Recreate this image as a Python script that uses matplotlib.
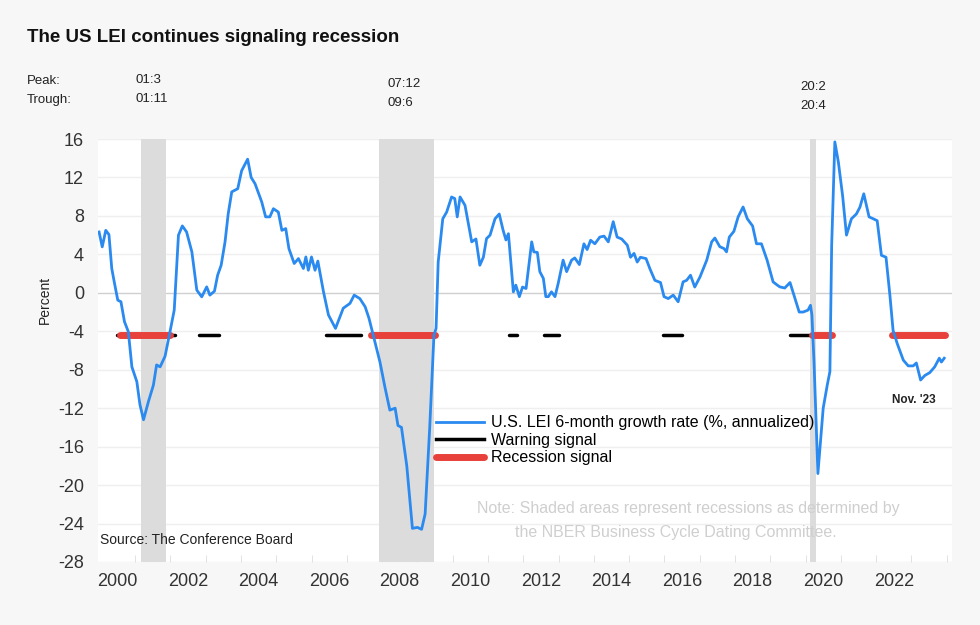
import matplotlib
matplotlib.use("Agg")
import matplotlib.pyplot as plt
from matplotlib.lines import Line2D

plt.rcParams['axes.unicode_minus'] = False
plt.rcParams['font.family'] = ['Liberation Sans', 'DejaVu Sans']

years = [1999.98,2000.07,2000.17,2000.26,2000.34,2000.41,2000.51,2000.60,2000.70,2000.81,2000.91,2001.05,2001.14,2001.24,2001.38,2001.52,2001.61,2001.71,2001.85,2001.99,2002.11,2002.23,2002.34,2002.46,2002.61,2002.75,2002.89,2003.03,2003.12,2003.25,2003.34,2003.44,2003.55,2003.64,2003.74,2003.91,2004.02,2004.19,2004.29,2004.40,2004.59,2004.70,2004.82,2004.92,2005.06,2005.16,2005.27,2005.36,2005.51,2005.63,2005.77,2005.84,2005.91,2006.00,2006.10,2006.18,2006.34,2006.48,2006.68,2006.90,2007.09,2007.21,2007.37,2007.52,2007.63,2007.75,2007.94,2008.08,2008.22,2008.37,2008.45,2008.55,2008.70,2008.86,2009.00,2009.12,2009.22,2009.35,2009.47,
2009.53,2009.59,2009.72,2009.83,2009.97,2010.06,2010.13,2010.21,2010.35,2010.54,2010.66,2010.77,2010.87,2010.96,2011.06,2011.20,2011.32,2011.43,2011.51,2011.58,2011.72,2011.79,2011.89,2011.98,2012.08,2012.24,2012.30,2012.40,2012.47,2012.57,2012.64,2012.71,2012.80,2012.90,2012.99,2013.13,2013.23,2013.37,2013.46,2013.59,2013.72,2013.81,2013.91,2014.03,2014.17,2014.29,2014.41,2014.55,2014.66,2014.79,2014.95,2015.04,2015.14,2015.23,2015.32,2015.48,2015.59,2015.73,2015.89,2015.99,2016.11,2016.25,2016.39,
2016.53,2016.63,2016.74,2016.86,2017.01,2017.20,2017.34,2017.43,2017.57,2017.69,2017.76,2017.84,2017.97,2018.09,2018.23,2018.35,2018.50,2018.61,2018.75,2018.91,2019.08,2019.20,2019.27,2019.41,2019.56,2019.70,2019.82,2019.93,2020.07,2020.14,2020.18,2020.24,2020.35,2020.50,2020.62,2020.69,2020.74,2020.83,2020.93,2021.05,2021.16,2021.30,2021.44,2021.54,2021.65,2021.80,2021.92,2022.03,2022.15,2022.28,2022.39,2022.48,2022.60,2022.77,2022.91,2023.05,2023.14,2023.26,2023.38,2023.52,2023.66,2023.79,2023.85,2023.93]
values = [6.33,4.78,6.5,6.06,2.53,1.14,-0.76,-0.93,-3.0,-4.05,-7.7,-9.24,-11.66,-13.2,-11.3,-9.6,-7.5,-7.7,-6.6,-4.05,-1.8,6.0,6.96,6.33,4.26,0.28,-0.42,0.62,-0.24,0.17,1.83,2.87,5.3,8.23,10.5,10.83,12.7,13.9,12.0,11.35,9.45,7.9,7.9,8.75,8.4,6.5,6.68,4.6,3.05,3.56,2.53,3.73,2.35,3.73,2.35,3.3,0.1,-2.3,-3.7,-1.6,-1.1,-0.24,-0.6,-1.45,-2.66,-4.4,-7.2,-9.8,-12.2,-12.0,-13.8,-14.0,-18.0,-24.5,-24.4,-24.6,-23.0,-14.0,-4.4,
-3.7,3.2,7.7,8.4,9.97,9.8,7.9,9.97,9.1,5.3,5.6,2.87,3.7,5.64,6.0,7.7,8.2,6.5,5.5,6.15,0.1,0.8,-0.4,0.6,0.45,5.3,4.26,4.2,2.2,1.5,-0.4,-0.4,0.1,-0.4,0.97,3.4,2.2,3.4,3.63,2.94,5.1,4.5,5.47,5.1,5.8,5.9,5.3,7.4,5.8,5.6,4.95,3.7,4.1,3.2,3.7,3.56,2.5,1.3,1.07,-0.4,-0.6,-0.24,-0.93,
1.14,1.3,1.83,0.6,1.66,3.4,5.3,5.7,4.8,4.6,4.26,5.8,6.4,7.9,8.93,7.7,6.95,5.1,5.1,3.4,1.14,0.8,0.62,0.5,1.07,-0.6,-2.0,-2.0,-1.8,-1.3,-2.3,-7.2,-18.8,-12.0,-9.5,-8.2,4.9,15.7,13.6,10.1,6.0,7.7,8.2,8.9,10.3,7.9,7.7,7.5,3.9,3.7,-0.24,-3.9,-5.3,-7.0,-7.6,-7.6,-7.3,-9.07,-8.6,-8.3,-7.7,-6.8,-7.2,-6.8]

recessions = [(2001.17, 2001.87), (2007.92, 2009.47), (2020.12, 2020.30)]
warning = [(2000.48, 2002.13), (2002.81, 2003.38), (2006.40, 2007.40), (2011.60, 2011.81),
           (2012.60, 2013.00), (2015.97, 2016.50), (2019.56, 2020.17)]
recession_sig = [(2000.58, 2001.99), (2007.69, 2009.50), (2020.17, 2020.74), (2022.44, 2023.95)]
signal_level = -4.4
peaks = ["01:3", "07:12", "20:2"]
troughs = ["01:11", "09:6", "20:4"]

BG = "#f7f7f7"
fig = plt.figure(figsize=(9.8, 6.25), dpi=100, facecolor=BG)
ax = fig.add_axes([98/980, 1-562/625, (952-98)/980, (562-139)/625])
ax.set_facecolor("white")
for s in ax.spines.values():
    s.set_visible(False)
ax.set_xlim(1999.95, 2024.15)
ax.set_ylim(-28, 16)
ax.set_yticks(range(-28, 17, 4))
for yv in range(-28, 17, 4):
    ax.axhline(yv, color="#d0d0d0" if yv == 0 else "#efefef", lw=1, zorder=0)
for a, b in recessions:
    ax.axvspan(a, b, color="#dcdcdc", lw=0, zorder=1)
for a, b in warning:
    ax.plot([a, b], [signal_level]*2, color="black", lw=2.5, solid_capstyle="round", zorder=2)
for a, b in recession_sig:
    ax.plot([a, b], [signal_level]*2, color="#e8403a", lw=5, solid_capstyle="round", zorder=3)
ax.plot(years, values, color="#2a8af0", lw=2.0, zorder=4)

ax.set_xticks([y + 0.5 for y in range(2000, 2024, 2)])
ax.set_xticklabels([str(y) for y in range(2000, 2024, 2)])
ax.set_xticks(list(range(2001, 2025)), minor=True)
ax.tick_params(axis="x", which="major", length=0, labelsize=13, labelcolor="#333333", pad=8)
ax.tick_params(axis="x", which="minor", length=5, color="#dddddd", direction="in")
ax.tick_params(axis="y", length=0, labelsize=13, labelcolor="#333333", pad=10)

fig.text(27/980, 1-37/625, "The US LEI continues signaling recession", fontsize=13.5,
         fontweight="bold", va="center", ha="left", color="#111111")
fig.text(27/980, 1-81/625, "Peak:", fontsize=9.5, va="center", color="#222222")
fig.text(27/980, 1-100/625, "Trough:", fontsize=9.5, va="center", color="#222222")
for xp, yp, p, t in zip([135, 388, 800], [80, 84, 87], peaks, troughs):
    fig.text(xp/980, 1-yp/625, p, fontsize=9.5, va="center", color="#222222")
    fig.text(xp/980, 1-(yp+19)/625, t, fontsize=9.5, va="center", color="#222222")
fig.text(45/980, 1-300/625, "Percent", rotation=90, fontsize=10, va="center", ha="center", color="#222222")
fig.text(100/980, 1-540/625, "Source: The Conference Board", fontsize=10, va="center", color="#222222")
fig.text(892/980, 1-400/625, "Nov. '23", fontsize=8.5, fontweight="bold", va="center", color="#222222")
fig.text(688/980, 1-508/625, "Note: Shaded areas represent recessions as determined by", fontsize=11.5,
         va="center", ha="center", color="#cfcfcf")
fig.text(676/980, 1-532/625, "the NBER Business Cycle Dating Committee.", fontsize=11.5,
         va="center", ha="center", color="#cfcfcf")

handles = [Line2D([], [], color="#2a8af0", lw=2),
           Line2D([], [], color="black", lw=2.5),
           Line2D([], [], color="#e8403a", lw=5, solid_capstyle="round")]
labels = ["U.S. LEI 6-month growth rate (%, annualized)", "Warning signal", "Recession signal"]
fig.legend(handles, labels, loc="upper left", bbox_to_anchor=(430/980, 1-409/625), frameon=False,
           fontsize=11.5, handlelength=3.0, handletextpad=0.4, labelspacing=0.15, borderaxespad=0)

fig.savefig("out.png", dpi=100, facecolor=BG)
